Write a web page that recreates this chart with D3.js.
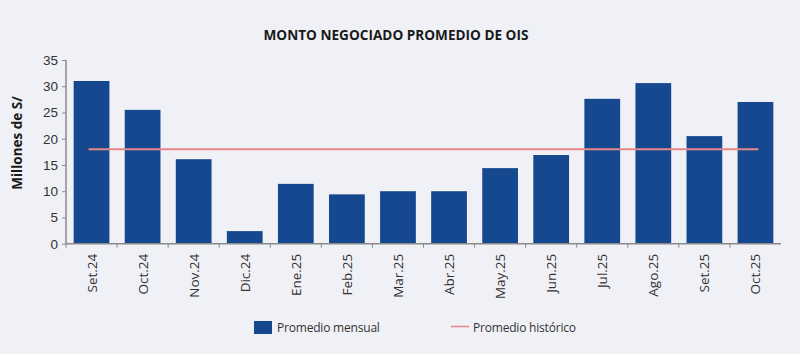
<!DOCTYPE html>
<html>
<head>
<meta charset="utf-8">
<script src="https://cdn.jsdelivr.net/npm/d3@7"></script>
<style>
  body{margin:0;background:#f0f1f6;}
  svg{display:block;font-family:"Open Sans",sans-serif;}
  .axis path,.axis line{stroke:#8a8a8a;}
  .axis text{fill:#333;font-size:13.5px;}
</style>
</head>
<body>
<div id="chart"></div>
<script>
var meses = ["Set.24","Oct.24","Nov.24","Dic.24","Ene.25","Feb.25","Mar.25","Abr.25","May.25","Jun.25","Jul.25","Ago.25","Set.25","Oct.25"];
var promedioMensual = [31.0,25.5,16.1,2.4,11.4,9.4,10.0,10.0,14.4,16.9,27.6,30.6,20.5,27.0];
var promedioHistorico = 18.0;
var yTicks = [0,5,10,15,20,25,30,35];

var width = 800, height = 354;
var padLeft = 66, padRight = 781, padTop = 60, padBottom = 243.7;

var svg = d3.select("#chart")
    .append("svg")
    .attr("width",width)
    .attr("height",height);

var xScale = d3.scaleBand()
    .domain(meses)
    .range([padLeft,padRight])
    .paddingInner(0.3)
    .paddingOuter(0.15);

var yScale = d3.scaleLinear()
    .domain([0,35])
    .range([padBottom,padTop]);

// title
svg.append("text")
    .attr("x",396)
    .attr("y",40)
    .attr("text-anchor","middle")
    .attr("font-size",13.6)
    .attr("font-weight","bold")
    .attr("fill","#1a1a1a")
    .text("MONTO NEGOCIADO PROMEDIO DE OIS");

// bars
svg.selectAll("rect.bar")
    .data(promedioMensual)
    .enter()
    .append("rect")
    .attr("class","bar")
    .attr("fill","#15488f")
    .attr("x",function(d,i){ return xScale(meses[i]); })
    .attr("y",function(d){ return yScale(d); })
    .attr("width",xScale.bandwidth())
    .attr("height",function(d){ return padBottom-yScale(d); });

// historic line
svg.append("line")
    .attr("x1",xScale(meses[0])+xScale.bandwidth()/2-3)
    .attr("x2",xScale(meses[meses.length-1])+xScale.bandwidth()/2+3)
    .attr("y1",yScale(promedioHistorico))
    .attr("y2",yScale(promedioHistorico))
    .attr("stroke","#e8868a")
    .attr("stroke-width",2);

// y axis
var yAxis = d3.axisLeft(yScale).tickValues(yTicks).tickSize(4).tickPadding(4);
svg.append("g")
    .attr("class","axis")
    .attr("transform","translate("+padLeft+",0)")
    .call(yAxis)
    .call(function(g){ g.select(".domain").attr("stroke-width",1.5).attr("d","M0,"+padTop+"V"+padBottom); });

// x axis: ticks at band boundaries
var step = xScale.step();
var xAxisG = svg.append("g")
    .attr("class","axis")
    .attr("transform","translate(0,"+padBottom+")");
xAxisG.append("path")
    .attr("d","M"+padLeft+",0H"+padRight)
    .attr("stroke","#8a8a8a")
    .attr("stroke-width",1.5)
    .attr("fill","none");
xAxisG.selectAll("line.sep")
    .data(d3.range(meses.length))
    .enter()
    .append("line")
    .attr("x1",function(i){ return xScale(meses[i])-step*0.15; })
    .attr("x2",function(i){ return xScale(meses[i])-step*0.15; })
    .attr("y1",0)
    .attr("y2",4)
    .attr("stroke","#8a8a8a");
xAxisG.selectAll("text")
    .data(meses)
    .enter()
    .append("text")
    .attr("transform",function(d){ return "translate("+(xScale(d)+xScale.bandwidth()/2+5)+",10)rotate(-90)"; })
    .attr("text-anchor","end")
    .text(function(d){ return d; });

// y title
svg.append("text")
    .attr("transform","translate(22,143)rotate(-90)")
    .attr("text-anchor","middle")
    .attr("font-size",13.5)
    .attr("font-weight","bold")
    .attr("fill","#1a1a1a")
    .text("Millones de S/");

// legend
svg.append("rect")
    .attr("x",254).attr("y",321)
    .attr("width",18).attr("height",13)
    .attr("fill","#15488f");
svg.append("text")
    .attr("x",277).attr("y",331.5)
    .attr("font-size",12).attr("letter-spacing",-0.2).attr("fill","#333")
    .text("Promedio mensual");
svg.append("line")
    .attr("x1",451).attr("x2",469)
    .attr("y1",326.5).attr("y2",326.5)
    .attr("stroke","#e8868a").attr("stroke-width",1.5);
svg.append("text")
    .attr("x",473).attr("y",331.5)
    .attr("font-size",12).attr("letter-spacing",-0.2).attr("fill","#333")
    .text("Promedio histórico");
</script>
</body>
</html>
